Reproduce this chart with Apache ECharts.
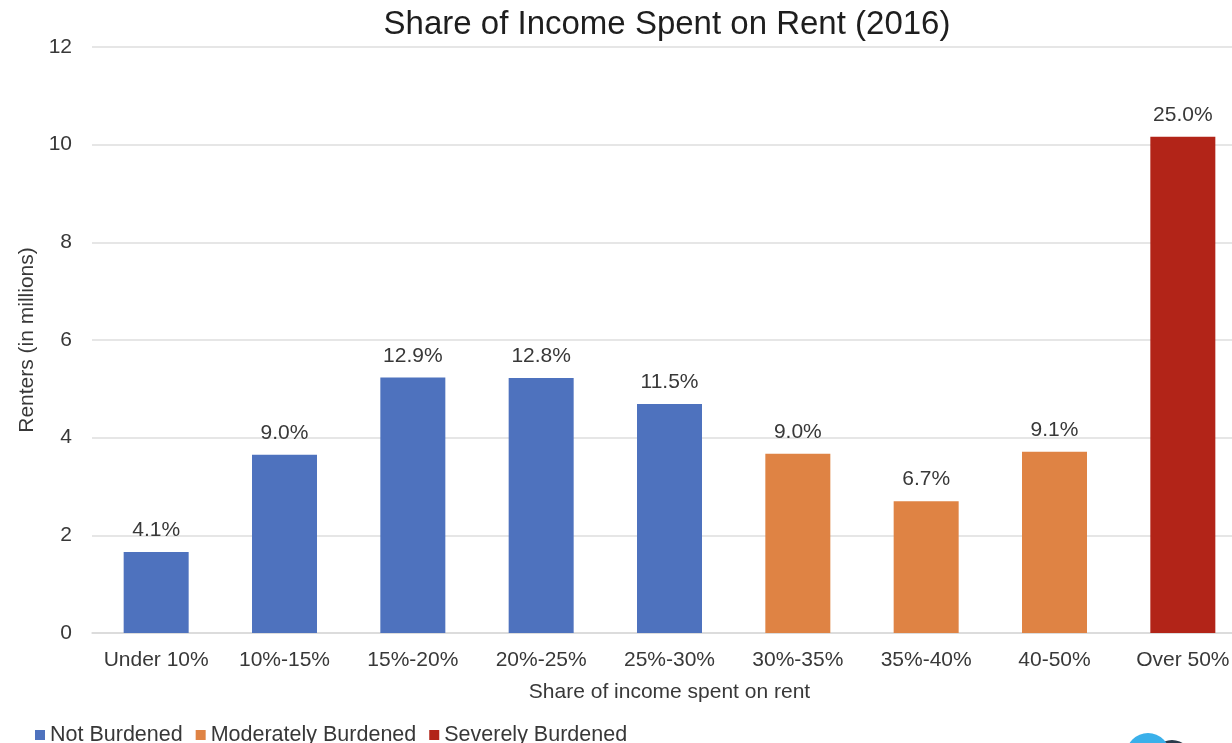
<!DOCTYPE html>
<html>
<head>
<meta charset="utf-8">
<script src="https://cdn.jsdelivr.net/npm/echarts@6/dist/echarts.min.js"></script>
<style>
  html, body { margin: 0; padding: 0; background: #fff; overflow: hidden; }
  /* the source image crops the right edge of the plot, so the chart is a bit wider than the window */
  #main { width: 1250px; height: 743px; }
</style>
</head>
<body>
<div id="main"></div>
<script>
const categories = ['Under 10%', '10%-15%', '15%-20%', '20%-25%', '25%-30%', '30%-35%', '35%-40%', '40-50%', 'Over 50%'];
// renters in millions
const notBurdened = [1.66, 3.65, 5.23, 5.22, 4.69, null, null, null, null];
const moderatelyBurdened = [null, null, null, null, null, 3.67, 2.70, 3.71, null];
const severelyBurdened = [null, null, null, null, null, null, null, null, 10.16];
// share labels shown above each bar
const shareLabels = ['4.1%', '9.0%', '12.9%', '12.8%', '11.5%', '9.0%', '6.7%', '9.1%', '25.0%'];
const yTicks = [0, 2, 4, 6, 8, 10, 12];

const font = 'Liberation Sans, Arial, sans-serif';
const textColor = '#383838';
const chart = echarts.init(document.getElementById('main'));

function makeSeries(name, data, color) {
    return {
        name: name,
        type: 'bar',
        stack: 'all',
        data: data,
        barWidth: 65,
        itemStyle: { color: color },
        label: {
            show: true,
            position: 'top',
            distance: 11,
            color: textColor,
            fontSize: 21,
            fontFamily: font,
            formatter: p => shareLabels[p.dataIndex]
        }
    };
}

chart.setOption({
    animation: false,
    title: {
        text: 'Share of Income Spent on Rent (2016)',
        left: 662,
        textAlign: 'center',
        top: 3,
        textStyle: { fontSize: 33, fontWeight: 'normal', color: '#1e1e1e', fontFamily: font }
    },
    legend: {
        left: 30,
        top: 719,
        itemWidth: 10,
        itemHeight: 10,
        itemGap: 13,
        icon: 'rect',
        textStyle: { fontSize: 21.5, color: textColor, fontFamily: font }
    },
    grid: { left: 92, top: 47, width: 1155, height: 586 },
    xAxis: {
        type: 'category',
        data: categories,
        name: 'Share of income spent on rent',
        nameLocation: 'middle',
        nameGap: 49,
        nameTextStyle: { fontSize: 21, color: textColor, fontFamily: font },
        axisLine: { lineStyle: { color: '#d9d9d9', width: 1.5 } },
        axisTick: { show: false },
        axisLabel: { interval: 0, hideOverlap: false, fontSize: 21, color: textColor, fontFamily: font, margin: 17 }
    },
    yAxis: {
        type: 'value',
        min: yTicks[0],
        max: yTicks[yTicks.length - 1],
        interval: 2,
        name: 'Renters (in millions)',
        nameLocation: 'middle',
        nameGap: 49,
        nameTextStyle: { fontSize: 21, color: textColor, fontFamily: font },
        axisLine: { show: false },
        axisTick: { show: false },
        axisLabel: { fontSize: 21, color: textColor, fontFamily: font, margin: 20 },
        splitLine: { lineStyle: { color: '#dedede', width: 1.5 } }
    },
    graphic: [
        { type: 'circle', shape: { cx: 1172, cy: 760, r: 20 }, style: { fill: '#2a3b4c' } },
        { type: 'circle', shape: { cx: 1148, cy: 755, r: 22 }, style: { fill: '#3ab0ea' } }
    ],
    series: [
        makeSeries('Not Burdened', notBurdened, '#4e72be'),
        makeSeries('Moderately Burdened', moderatelyBurdened, '#df8344'),
        makeSeries('Severely Burdened', severelyBurdened, '#b22418')
    ]
});
</script>
</body>
</html>
